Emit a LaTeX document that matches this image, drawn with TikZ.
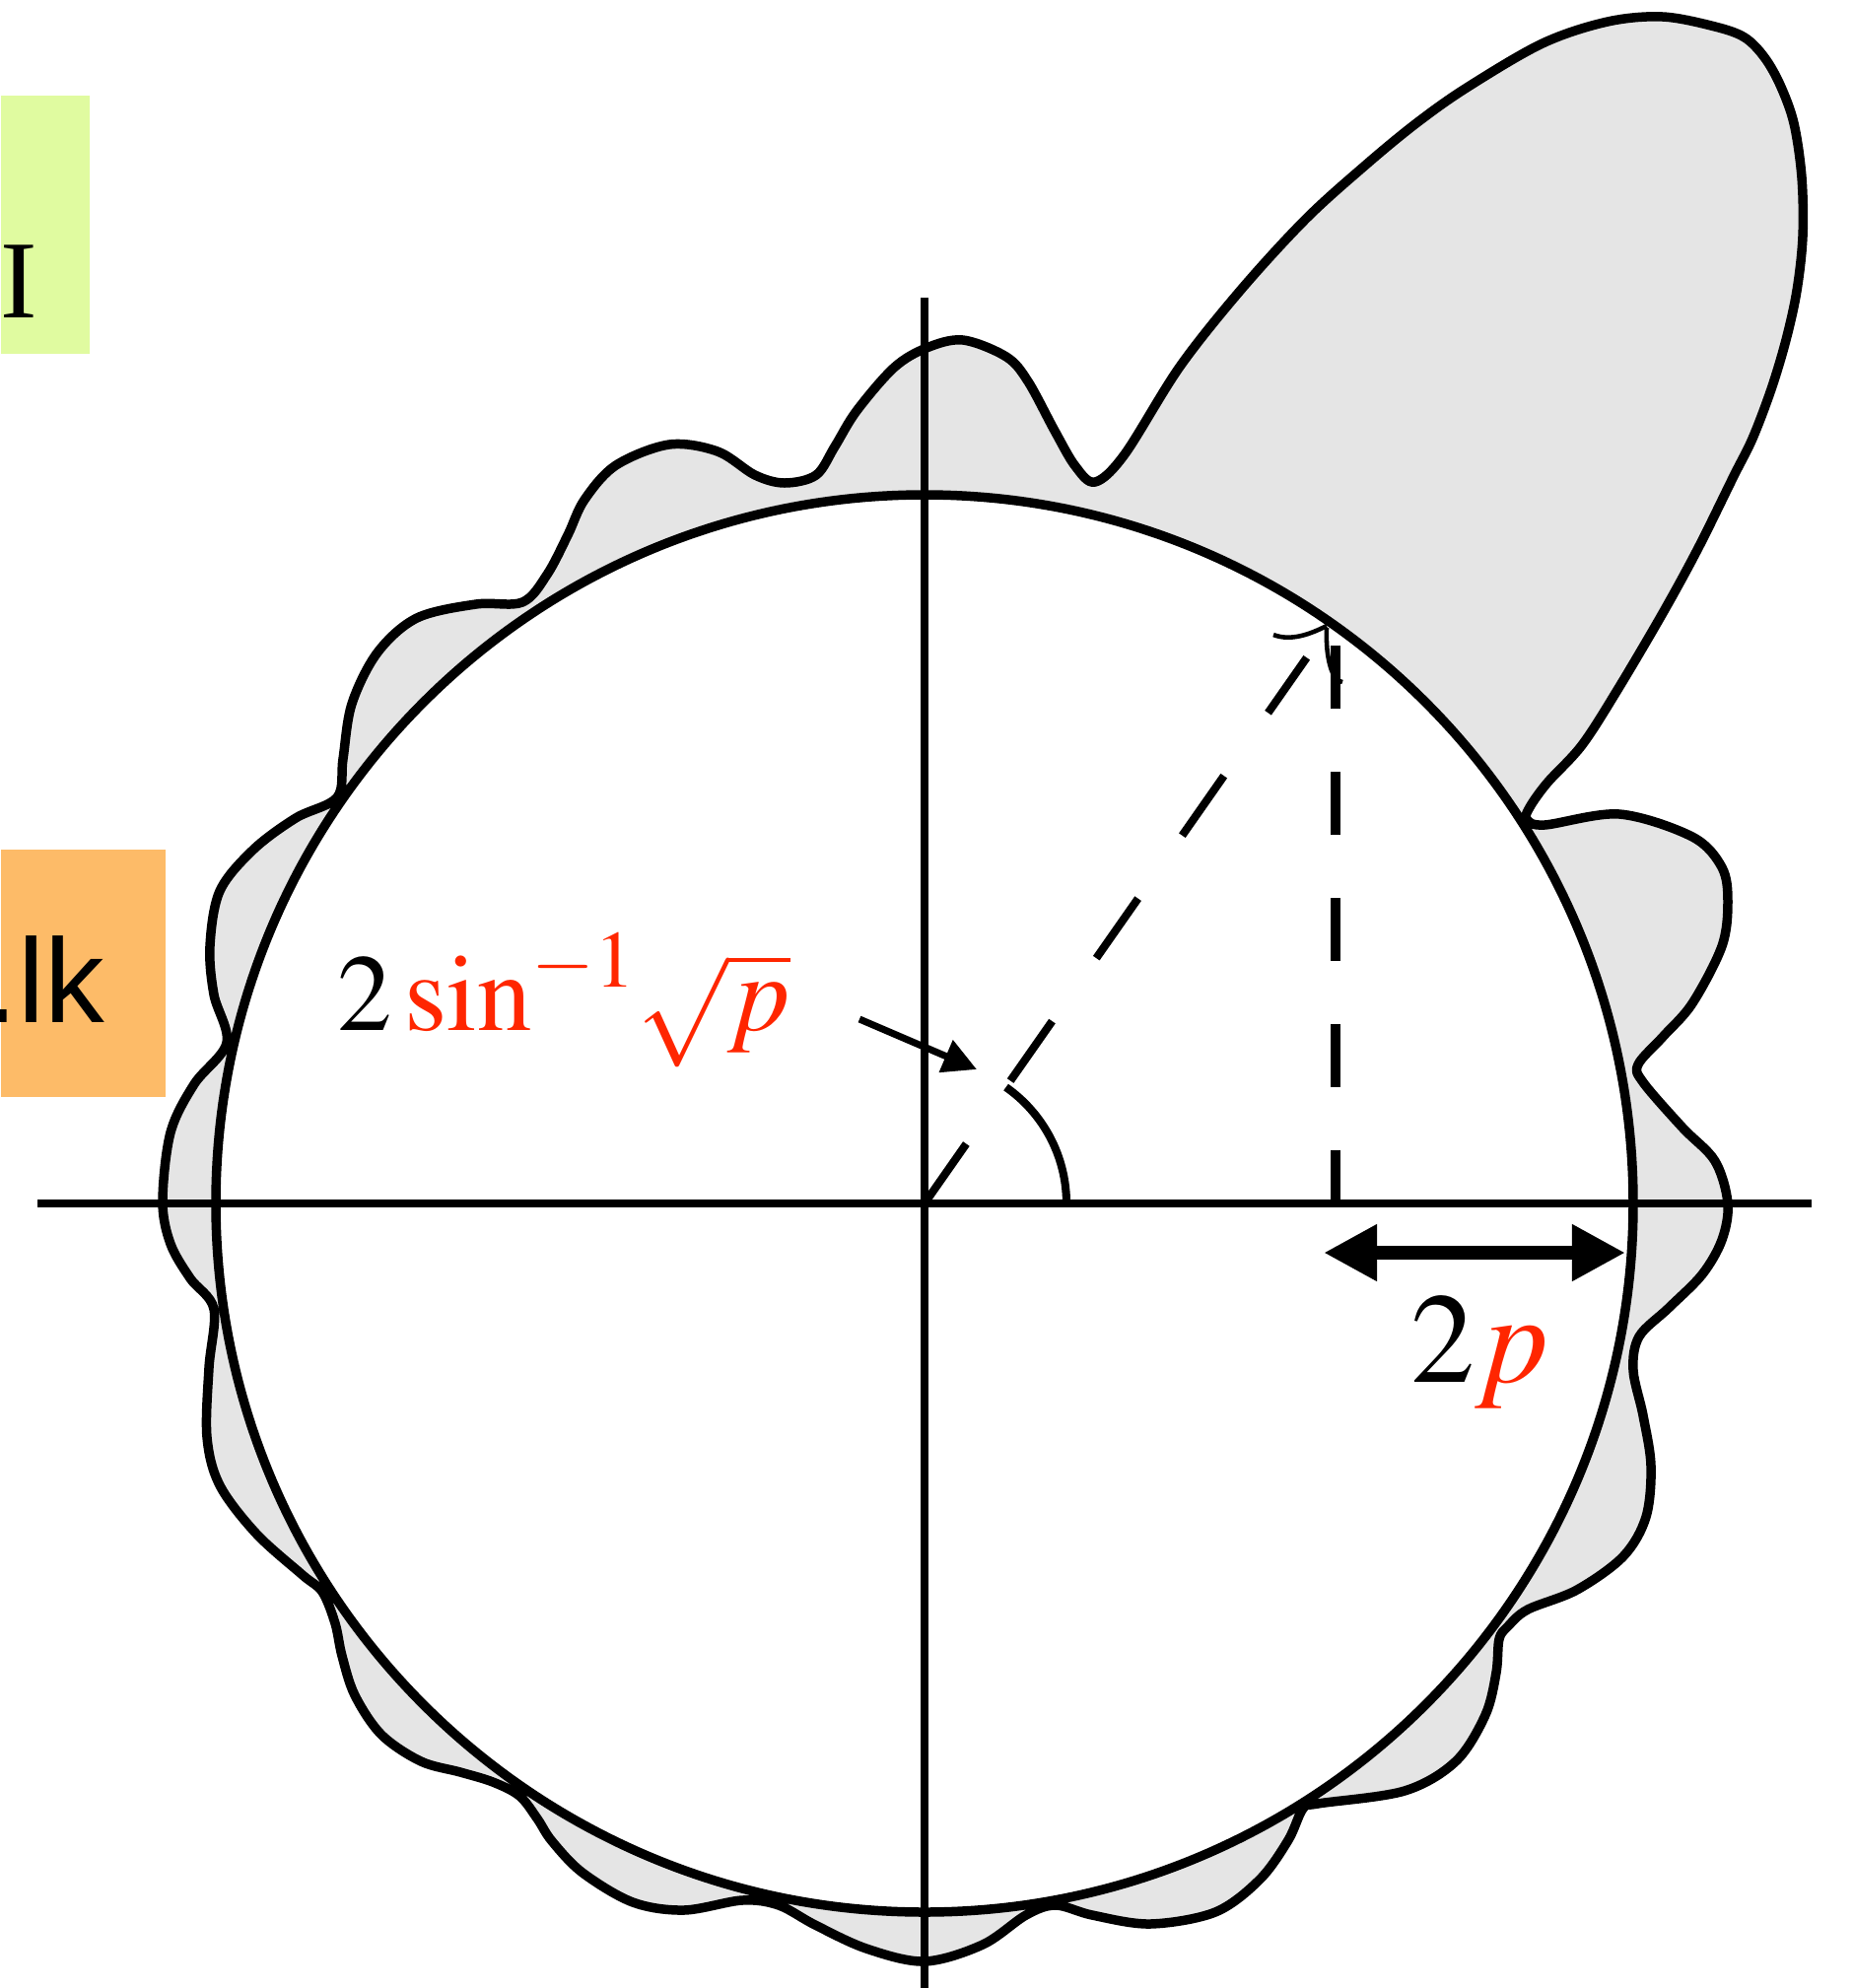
\documentclass[tikz,border=0pt]{standalone}
\usepackage{mathptmx}
\usepackage{fontspec}
\setmainfont{Liberation Serif}
\setsansfont{Liberation Sans}
\usepackage{xcolor}
\usetikzlibrary{arrows.meta,calc}

\definecolor{lblred}{RGB}{255,38,0}
\definecolor{blobgray}{RGB}{229,229,229}
\definecolor{boxgreen}{RGB}{224,251,160}
\definecolor{boxorange}{RGB}{253,187,104}

\begin{document}
\begin{tikzpicture}[
  x=0.01cm, y=-0.01cm,
  axis/.style={line width=2.1pt},
  blob/.style={line width=2.7pt,line join=round,fill=blobgray,even odd rule},
  guide/.style={line width=2.3pt,dash pattern=on 21pt off 22.2pt},
  drop/.style={line width=3.1pt,dash pattern=on 18.2pt off 18.2pt},
  tag/.style={inner sep=0pt,anchor=base west},
  patch/.style={fill=#1,inner sep=0pt,anchor=north west},
  pointer/.style={-{Triangle[length=9.7pt,width=9.7pt]},line width=2pt},
  span/.style={{Triangle[length=15.4pt,width=15.4pt]}-{Triangle[length=15.4pt,width=15.4pt]},
               line width=4pt}
]
\useasboundingbox (0,0) rectangle (1880,2017);
\clip (0,0) rectangle (1880,2017);

% side boxes, cut by the page edge
\node[patch=boxgreen,minimum width=0.9cm,minimum height=2.62cm] (gbox) at (0,96) {};
\node[patch=boxorange,minimum width=1.67cm,minimum height=2.51cm] (obox) at (0,861) {};
\node[tag,font=\fontsize{32}{38}\selectfont] (gtext) at (0,322) {I};
\node[tag,font=\sffamily\fontsize{34.5}{40}\selectfont] (otext) at (-16,1037) {.lk};

\coordinate (O) at (938,1221);

% wavy pattern with the big lobe, circle cut out
\filldraw[blob] plot[smooth cycle,tension=0.55] coordinates {
  (1111,489) (1141,461) (1197,372) (1259,294) (1325,222) (1386,167)
  (1437,125) (1488,89) (1565,44) (1631,22) (1687,17) (1740,27)
  (1770,38) (1790,58) (1806,86) (1820,125) (1828,180) (1829,240)
  (1823,295) (1812,345) (1797,395) (1778,445) (1759,483) (1723,556)
  (1687,622) (1641,700)
  (1605,756) (1570,794) (1552,819) (1549,831) (1567,837) (1643,826)
  (1717,849) (1747,880) (1753,915) (1747,960) (1717,1018) (1687,1052)
  (1662,1080) (1667,1098) (1707,1144) (1740,1178) (1753,1221) (1747,1258)
  (1727,1293) (1693,1327) (1663,1356) (1657,1390) (1667,1436) (1675,1487)
  (1670,1539) (1647,1579) (1600,1613) (1550,1633) (1530,1650) (1521,1663)
  (1518,1697) (1507,1740) (1477,1787) (1425,1817) (1337,1830) (1322,1835)
  (1307,1867) (1278,1907) (1233,1940) (1167,1952) (1108,1943) (1071,1933)
  (1041,1943) (997,1973) (938,1990) (879,1977) (827,1953) (790,1933)
  (753,1928) (694,1938) (642,1930) (591,1900) (560,1868) (545,1845)
  (527,1822) (500,1808) (467,1798) (427,1787) (387,1760) (360,1720)
  (347,1680) (340,1647) (327,1615) (307,1598) (260,1556) (223,1507)
  (210,1458) (212,1388) (217,1328) (193,1297) (173,1262) (165,1219)
  (173,1149) (197,1100) (230,1058) (217,1009) (213,960) (223,904)
  (257,862) (300,830) (342,809) (348,770) (357,714) (383,662)
  (423,627) (483,613) (530,611) (555,583) (576,543) (593,507)
  (625,472) (679,451) (728,458) (766,482) (796,490) (828,482)
  (847,453) (869,417) (907,373) (940,353) (977,345) (1021,362)
  (1043,387) (1070,437) (1091,473)}
  (O) circle[radius=719];

% axes
\draw[axis] (38,1221) -- (1838,1221);
\draw[axis] (938,302) -- (938,2017);

% angle and its projections
\coordinate (rimpt) at ($(O)+(-55:676)$);
\draw[guide] (O) -- (rimpt);
\draw[line width=2.3pt] (1082,1221) arc[start angle=0,end angle=-55,radius=144];
\coordinate (foot) at (1355,1221);
\draw[drop] (1355,655) -- (foot);
\draw[line width=1.3pt] (1292,644) .. controls (1310,651) and (1330,643) .. (1346,635);
\draw[line width=1.3pt] (1346,637) .. controls (1345,662) and (1349,680) .. (1356,690) -- (1362,692);

% labels
\node[tag,font=\fontsize{31.5}{36}\selectfont] (angtext) at (342,1045)
  {$2\,{\color{lblred}\sin^{-1}\!\sqrt{p}}$};
\coordinate (ptrstart) at (872,1034);
\coordinate (ptrend) at (991,1085);
\draw[pointer] (ptrstart) -- (ptrend);

\coordinate (spanl) at (1343,1271);
\coordinate (spanr) at (1649,1271);
\draw[span] (spanl) -- (spanr);
\node[tag,font=\fontsize{37}{43}\selectfont] (widthtext) at (1431,1402)
  {$2{\color{lblred}p}$};
\end{tikzpicture}
\end{document}
